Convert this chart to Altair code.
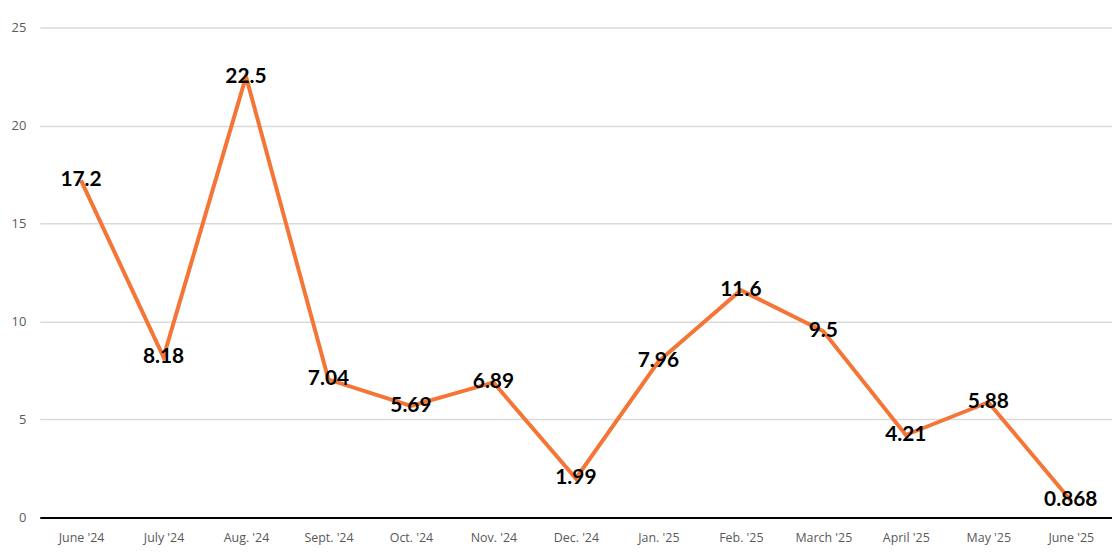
import altair as alt
import pandas as pd

months = ["June '24", "July '24", "Aug. '24", "Sept. '24", "Oct. '24", "Nov. '24",
          "Dec. '24", "Jan. '25", "Feb. '25", "March '25", "April '25", "May '25", "June '25"]
values = [17.2, 8.18, 22.5, 7.04, 5.69, 6.89, 1.99, 7.96, 11.6, 9.5, 4.21, 5.88, 0.868]
labels = ["17.2", "8.18", "22.5", "7.04", "5.69", "6.89", "1.99", "7.96", "11.6", "9.5", "4.21", "5.88", "0.868"]

df = pd.DataFrame({'month': months, 'value': values, 'label': labels})

x = alt.X('month:O', sort=months, title=None,
          scale=alt.Scale(type='point', padding=0.5),
          axis=alt.Axis(labelAngle=0, labelColor='#595959', labelFont='Open Sans',
                        labelFontSize=12.5, labelPadding=14, ticks=False,
                        domainColor='black', domainWidth=2, grid=False))
y = alt.Y('value:Q', title=None,
          scale=alt.Scale(domain=[0, 25], nice=False),
          axis=alt.Axis(values=[0, 5, 10, 15, 20, 25], labelColor='#595959',
                        labelFont='Open Sans', labelFontSize=13, labelPadding=14,
                        ticks=False, domain=False, gridColor='#d9d9d9', gridWidth=1.5))

line = alt.Chart(df).mark_line(color='#F47536', strokeWidth=4).encode(x=x, y=y)

text = alt.Chart(df).mark_text(font='Lato', fontWeight='bold', fontSize=21,
                               color='black', baseline='middle').encode(
    x=alt.X('month:O', sort=months), y='value:Q', text='label:N')

chart = (line + text).properties(
    width=1079, height=493,
    padding={'left': 3, 'top': 12, 'right': 0, 'bottom': 0}
).configure_view(stroke=None)

chart.save("out.html", embed_options={"renderer": "svg", "actions": False})
